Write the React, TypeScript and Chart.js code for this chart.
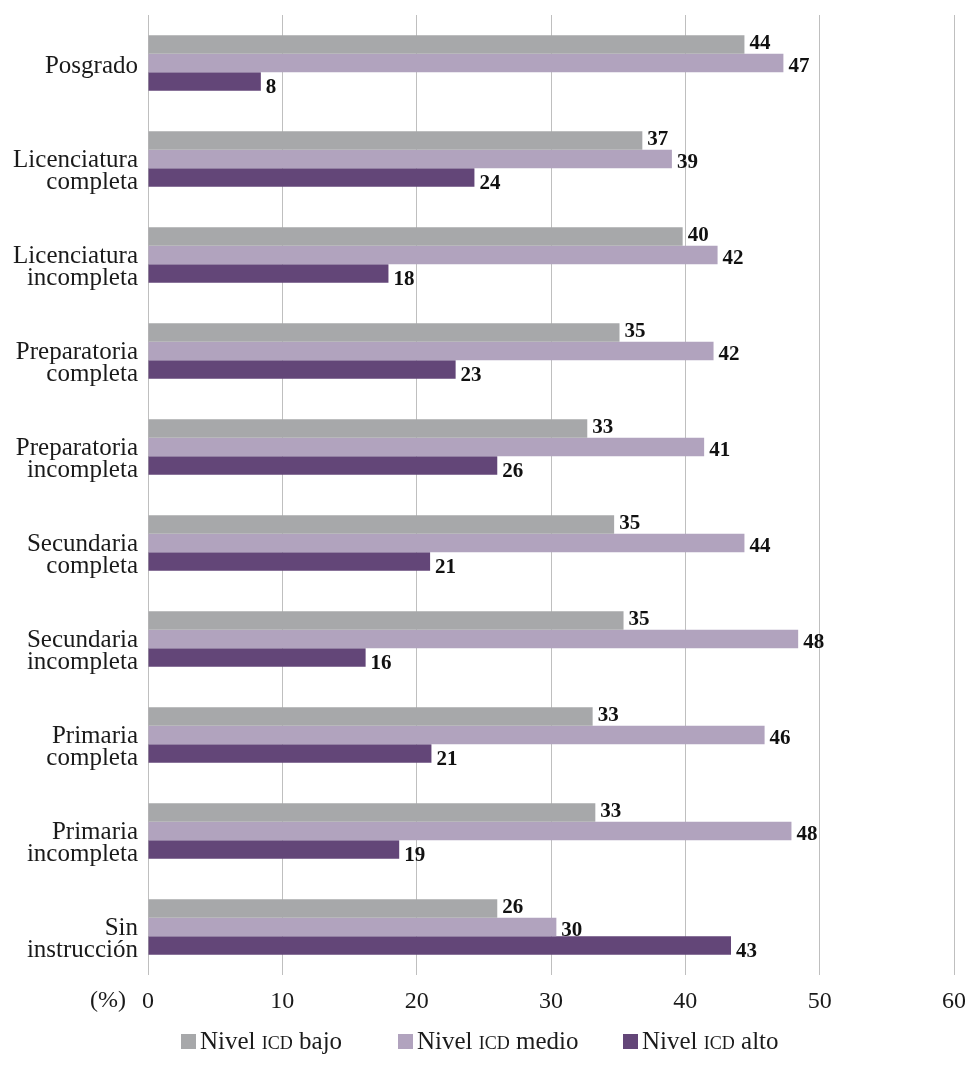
import React, { useEffect, useRef } from "react";
import { Chart, registerables } from "chart.js";

Chart.register(...registerables);

const categories: (string | string[])[] = [
  "Posgrado",
  ["Licenciatura", "completa"],
  ["Licenciatura", "incompleta"],
  ["Preparatoria", "completa"],
  ["Preparatoria", "incompleta"],
  ["Secundaria", "completa"],
  ["Secundaria", "incompleta"],
  ["Primaria", "completa"],
  ["Primaria", "incompleta"],
  ["Sin", "instrucción"],
];

const nivelBajo = [44.4, 36.8, 39.8, 35.1, 32.7, 34.7, 35.4, 33.1, 33.3, 26.0];
const nivelMedio = [47.3, 39.0, 42.4, 42.1, 41.4, 44.4, 48.4, 45.9, 47.9, 30.4];
const nivelAlto = [8.4, 24.3, 17.9, 22.9, 26.0, 21.0, 16.2, 21.1, 18.7, 43.4];

const seriesNames = ["Nivel ICD bajo", "Nivel ICD medio", "Nivel ICD alto"];
const seriesColors = ["#A7A8AA", "#B1A3BE", "#634678"];

const xTicks = [0, 10, 20, 30, 40, 50, 60];
const axisUnit = "(%)";

const FONT = "'Liberation Serif', 'Times New Roman', serif";
const TEXT = "#1a1a1a";

const valueLabelsPlugin = {
  id: "valueLabels",
  afterDatasetsDraw(chart: any) {
    const ctx = chart.ctx;
    const dy = [-1, 4, 6];
    ctx.save();
    ctx.font = `bold 21px ${FONT}`;
    ctx.fillStyle = "#111";
    ctx.textAlign = "left";
    ctx.textBaseline = "middle";
    chart.data.datasets.forEach((ds: any, i: number) => {
      const meta = chart.getDatasetMeta(i);
      meta.data.forEach((bar: any, j: number) => {
        const v = ds.data[j] as number;
        ctx.fillText(String(Math.round(v)), bar.x + 5, bar.y + dy[i]);
      });
    });
    ctx.restore();
  },
};

const categoryLabelsPlugin = {
  id: "categoryLabels",
  afterDraw(chart: any) {
    const ctx = chart.ctx;
    const yScale = chart.scales.y;
    const xRight = chart.chartArea.left - 10;
    ctx.save();
    ctx.font = `25px ${FONT}`;
    ctx.fillStyle = TEXT;
    ctx.textAlign = "right";
    ctx.textBaseline = "middle";
    const lineGap = 22;
    categories.forEach((label, i) => {
      const lines = Array.isArray(label) ? label : [label];
      const center = yScale.getPixelForValue(i) + (lines.length > 1 ? 12 : 3);
      const start = center - ((lines.length - 1) * lineGap) / 2;
      lines.forEach((line, k) => {
        ctx.fillText(line, xRight, start + k * lineGap);
      });
    });
    ctx.restore();
  },
};

const extrasPlugin = {
  id: "extras",
  afterDraw(chart: any) {
    const ctx = chart.ctx;
    const area = chart.chartArea;
    ctx.save();
    // axis unit
    ctx.font = `24px ${FONT}`;
    ctx.fillStyle = TEXT;
    ctx.textAlign = "right";
    ctx.textBaseline = "middle";
    ctx.fillText(axisUnit, area.left - 22, area.bottom + 26);

    // legend with small caps for the acronym
    const y = 1041;
    const boxX = [181, 398, 623];
    const normal = `25px ${FONT}`;
    const small = `18px ${FONT}`;
    ctx.textAlign = "left";
    ctx.textBaseline = "alphabetic";
    seriesNames.forEach((name, i) => {
      let x = boxX[i];
      ctx.fillStyle = seriesColors[i];
      ctx.fillRect(x, y - 7, 15, 15);
      x += 19;
      ctx.fillStyle = TEXT;
      const parts = name.split("ICD");
      const baseline = y + 8;
      ctx.font = normal;
      ctx.fillText(parts[0], x, baseline);
      x += ctx.measureText(parts[0]).width;
      ctx.font = small;
      ctx.fillText("ICD", x, baseline);
      x += ctx.measureText("ICD").width;
      ctx.font = normal;
      ctx.fillText(parts[1], x, baseline);
    });
    ctx.restore();
  },
};

export default function App() {
  const canvasRef = useRef<HTMLCanvasElement | null>(null);

  useEffect(() => {
    document.body.style.margin = "0";
    const canvas = canvasRef.current;
    if (!canvas) return;
    const chart = new Chart(canvas, {
      type: "bar",
      data: {
        labels: categories,
        datasets: [
          { label: seriesNames[0], data: nivelBajo, backgroundColor: seriesColors[0] },
          { label: seriesNames[1], data: nivelMedio, backgroundColor: seriesColors[1] },
          { label: seriesNames[2], data: nivelAlto, backgroundColor: seriesColors[2] },
        ],
      },
      options: {
        indexAxis: "y",
        animation: false,
        responsive: false,
        maintainAspectRatio: false,
        layout: { padding: { top: 15, right: 11, bottom: 50, left: 0 } },
        datasets: {
          bar: { categoryPercentage: 0.58, barPercentage: 1.0, borderWidth: 0 },
        },
        plugins: {
          legend: { display: false },
          tooltip: { enabled: false },
        },
        scales: {
          x: {
            type: "linear",
            min: 0,
            max: 60,
            afterBuildTicks: (scale: any) => {
              scale.ticks = xTicks.map((v) => ({ value: v }));
            },
            afterFit: (scale: any) => {
              scale.height = 40;
              scale.paddingLeft = 0;
              scale.paddingRight = 0;
            },
            grid: { color: "#BFBFBF", lineWidth: 1, drawTicks: false },
            border: { display: false },
            ticks: {
              font: { family: FONT, size: 24 },
              color: TEXT,
              padding: 12,
              maxRotation: 0,
            },
          },
          y: {
            type: "category",
            afterFit: (scale: any) => {
              scale.width = 148;
              scale.paddingTop = 0;
              scale.paddingBottom = 0;
            },
            grid: { display: false, drawTicks: false },
            border: { display: false },
            ticks: { display: false, autoSkip: false },
          },
        },
      },
      plugins: [valueLabelsPlugin, categoryLabelsPlugin, extrasPlugin],
    });
    return () => chart.destroy();
  }, []);

  return (
    <div style={{ width: 965, height: 1065, background: "#fff" }}>
      <canvas ref={canvasRef} width={965} height={1065} />
    </div>
  );
}
